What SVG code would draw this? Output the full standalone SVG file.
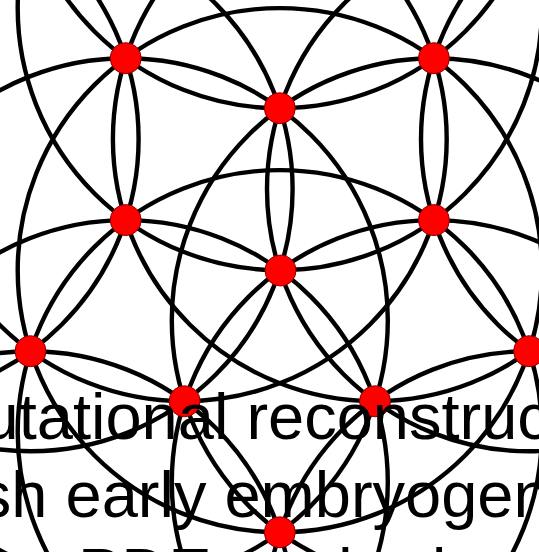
<svg xmlns="http://www.w3.org/2000/svg" width="539" height="552" viewBox="0 0 539 552">
<style>
.arc{fill:none;stroke:#000;stroke-width:4.4}
.dot{fill:#ff0000;stroke:#8b0000;stroke-width:1}
.t{font-family:"Liberation Sans",Arial,sans-serif;font-size:65px;fill:#000}
</style>
<rect width="539" height="552" fill="#fff"/>
<g id="connectors">
<circle class="arc" cx="279.8" cy="270.2" r="262.1"/>
<circle class="arc" cx="184.6" cy="139.1" r="262.1"/>
<circle class="arc" cx="375.0" cy="139.1" r="262.1"/>
<circle class="arc" cx="433.9" cy="320.3" r="262.1"/>
<circle class="arc" cx="279.8" cy="432.2" r="262.1"/>
<circle class="arc" cx="125.7" cy="320.3" r="262.1"/>
<circle class="arc" cx="279.8" cy="8.1" r="262.1"/>
<circle class="arc" cx="529.1" cy="189.2" r="262.1"/>
<circle class="arc" cx="433.9" cy="482.2" r="262.1"/>
<circle class="arc" cx="125.7" cy="482.2" r="262.1"/>
<circle class="arc" cx="30.5" cy="189.2" r="262.1"/>
<circle class="arc" cx="279.8" cy="-153.9" r="262.1"/>
<circle class="arc" cx="683.1" cy="139.1" r="262.1"/>
<circle class="arc" cx="529.1" cy="613.3" r="262.1"/>
<circle class="arc" cx="30.5" cy="613.3" r="262.1"/>
<circle class="arc" cx="-123.5" cy="139.1" r="262.1"/>
</g>
<g id="node-F"><circle class="dot" cx="280.5" cy="270.5" r="15.5"/></g>
<g id="node-C"><circle class="dot" cx="279.8" cy="108.2" r="15.5"/></g>
<g id="node-E"><circle class="dot" cx="433.9" cy="220.1" r="15.5"/></g>
<g id="node-J"><circle class="dot" cx="375.0" cy="401.3" r="15.5"/></g>
<g id="node-I"><circle class="dot" cx="184.6" cy="401.3" r="15.5"/></g>
<g id="node-D"><circle class="dot" cx="125.7" cy="220.1" r="15.5"/></g>
<g id="node-A"><circle class="dot" cx="125.7" cy="58.2" r="15.5"/></g>
<g id="node-B"><circle class="dot" cx="433.9" cy="58.2" r="15.5"/></g>
<g id="node-H"><circle class="dot" cx="529.1" cy="351.2" r="15.5"/></g>
<g id="node-K"><circle class="dot" cx="279.8" cy="532.3" r="15.5"/></g>
<g id="node-G"><circle class="dot" cx="30.5" cy="351.2" r="15.5"/></g>
<g id="title">
<text class="t" x="-17.4" y="438.5">utational reconstruc</text>
<text class="t" x="-21.2" y="516.7">sh early embryogen</text>
<text class="t" x="78" y="594.3">PDE methods of</text>
</g>
</svg>
